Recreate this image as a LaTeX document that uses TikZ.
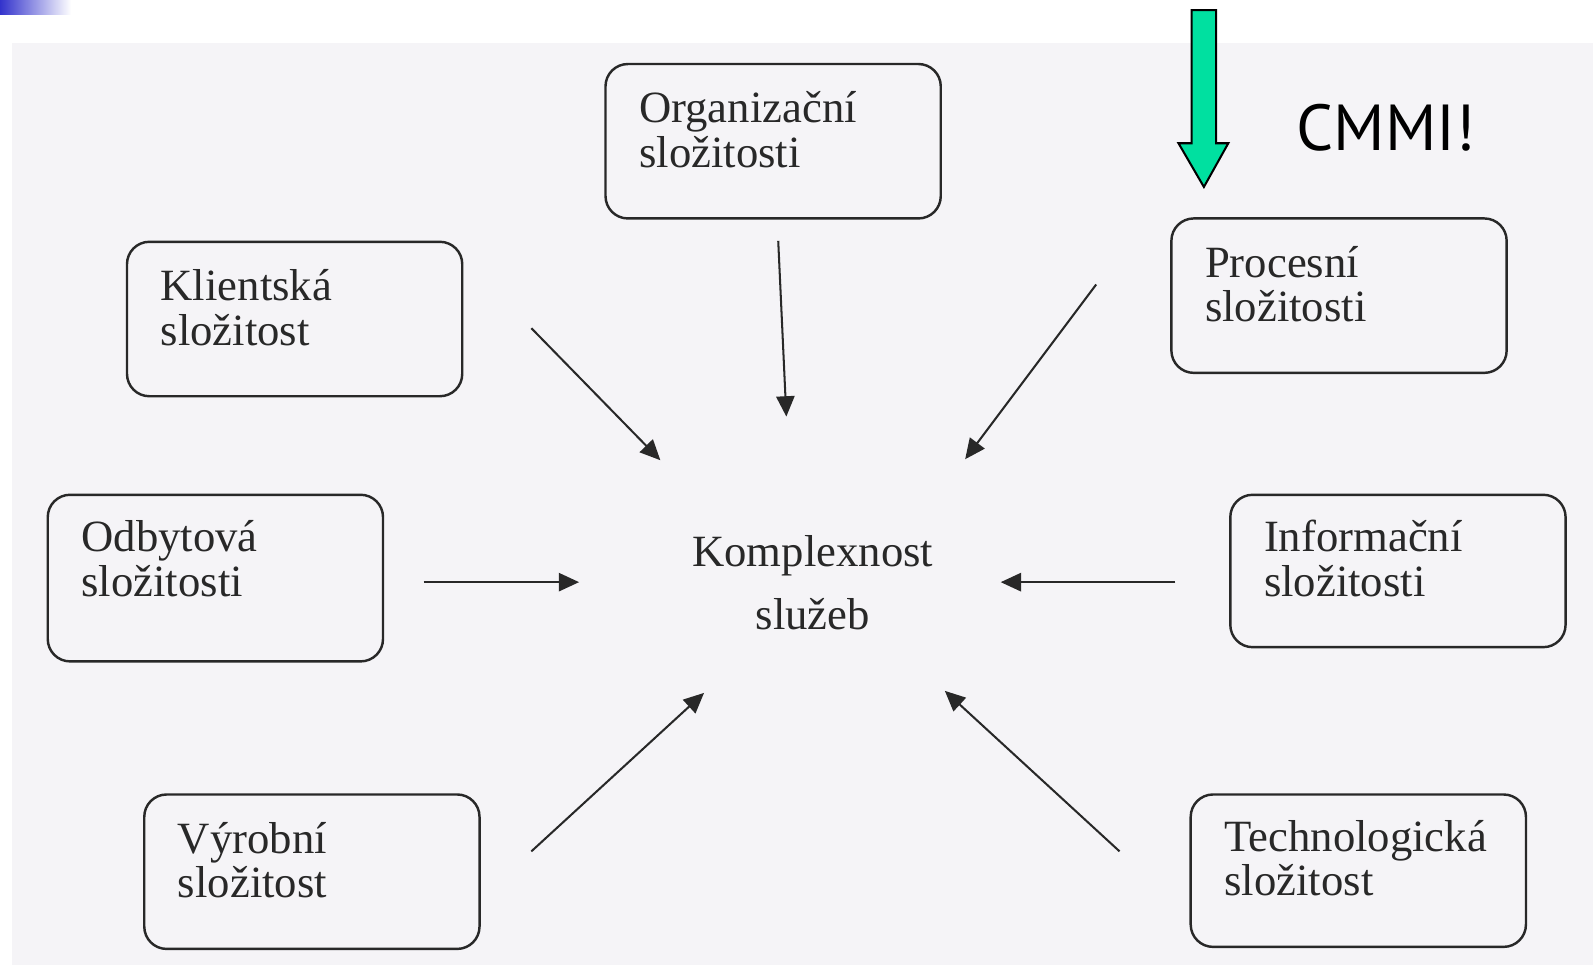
\documentclass[tikz,border=0pt]{standalone}
\usepackage{fontspec}
\setmainfont{Liberation Serif}
\newfontfamily\cmmifont{PT Sans}
\usepackage{tikz}
\usetikzlibrary{arrows.meta, positioning}
\definecolor{scanbg}{RGB}{245, 244, 247}
\definecolor{inkgray}{RGB}{40, 40, 40}
\definecolor{cmmigreen}{RGB}{0, 224, 160}
\definecolor{slideblue}{RGB}{51, 51, 204}

\tikzset{
  cbox/.style={draw=inkgray, line width=1.2pt, rounded corners=11pt,
    minimum width=165pt, minimum height=76pt, inner sep=0pt},
  lbl/.style={anchor=north west, inner sep=0pt, align=left, text=inkgray,
    font=\fontsize{22}{22}\selectfont},
  arr/.style={-{Triangle[length=10pt,width=9pt]}, line width=1pt, draw=inkgray}
}

\begin{document}
\begin{tikzpicture}[x=0.5pt, y=-0.5pt]
\useasboundingbox (0,0) rectangle (1568,950);
% scanned page and slide corner
\fill[white] (0,0) rectangle (1568,950);
\fill[scanbg] (12,42) rectangle (1568,950);
\shade[left color=slideblue, right color=white] (0,0) rectangle (70,14);

% boxes
\node[cbox] (org) at (761,139) {};
\node[lbl] (orgT) at ([xshift=17pt,yshift=-14pt]org.north west) {Organizační\\složitosti};

\node[cbox] (kli) at (290,314) {};
\node[lbl] (kliT) at ([xshift=17pt,yshift=-14pt]kli.north west) {Klientská\\složitost};

\node[cbox] (pro) at (1318,291) {};
\node[lbl] (proT) at ([xshift=17pt,yshift=-14pt]pro.north west) {Procesní\\složitosti};

\node[cbox, minimum height=82pt] (odb) at (212,569) {};
\node[lbl] (odbT) at ([xshift=17pt,yshift=-13pt]odb.north west) {Odbytová\\složitosti};

\node[cbox, minimum height=75pt] (inf) at (1376,562) {};
\node[lbl] (infT) at ([xshift=17pt,yshift=-13pt]inf.north west) {Informační\\složitosti};

\node[cbox] (vyr) at (307,858) {};
\node[lbl] (vyrT) at ([xshift=17pt,yshift=-14pt]vyr.north west) {Výrobní\\složitost};

\node[cbox, minimum height=75pt] (tech) at (1337,857) {};
\node[lbl] (techT) at ([xshift=17pt,yshift=-13pt]tech.north west) {Technologická\\složitost};

% centre
\node[align=center, inner sep=0pt, text=inkgray, font=\fontsize{22}{31}\selectfont]
  (kompl) at (800,574) {Komplexnost\\služeb};

% arrow ends
\coordinate (orgA) at (766,237);  \coordinate (orgB) at (774,410);
\coordinate (kliA) at (523,323);  \coordinate (kliB) at (650,453);
\coordinate (proA) at (1079,280); \coordinate (proB) at (950,452);
\coordinate (odbA) at (417,573);  \coordinate (odbB) at (570,573);
\coordinate (infA) at (1157,573); \coordinate (infB) at (985,573);
\coordinate (vyrA) at (523,838);  \coordinate (vyrB) at (693,682);
\coordinate (techA) at (1102,838); \coordinate (techB) at (930,680);

\foreach \s in {org,kli,pro,odb,inf,vyr,tech}
  \draw[arr] (\s A) -- (\s B);

% CMMI note
\draw[line width=1pt, fill=cmmigreen]
  (1173,10) -- (1197,10) -- (1197,141) -- (1209,141) -- (1185,184)
  -- (1160,141) -- (1173,141) -- cycle;
\node[anchor=base west, inner sep=0pt, font=\cmmifont\fontsize{32}{32}\selectfont]
  (cmmi) at (1276,148) {CMMI!};
\end{tikzpicture}
\end{document}
